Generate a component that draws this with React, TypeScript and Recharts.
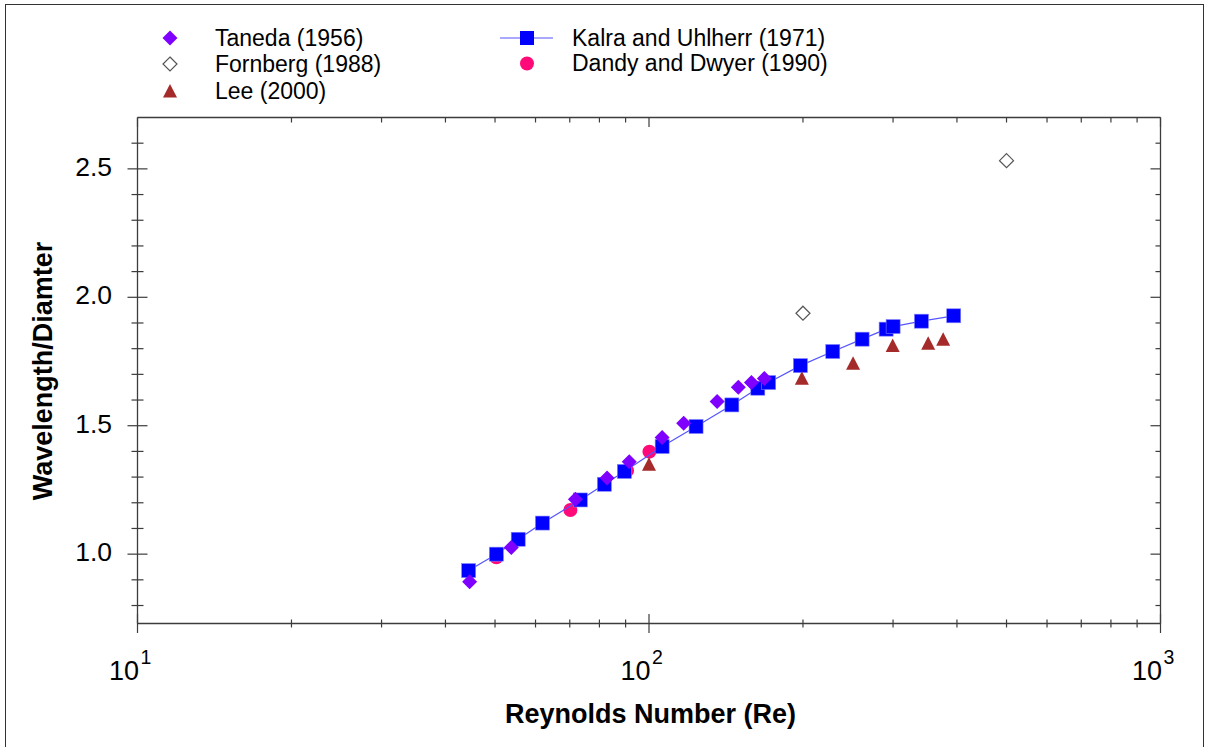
import React from 'react';
import { ScatterChart, Scatter, XAxis, YAxis, Legend } from 'recharts';

const FONT = '"Liberation Sans", Arial, Helvetica, sans-serif';
const AXIS_COLOR = '#3c3c3c';

// ---- data (Reynolds number, wavelength / diameter) ----
const tanedaRe = [44.6, 53.8, 71.8, 82.8, 91.5, 106.1, 116.9, 135.9, 149.5, 158.6, 168.1];
const tanedaRatio = [0.893, 1.026, 1.214, 1.296, 1.36, 1.454, 1.51, 1.594, 1.65, 1.668, 1.684];

const fornbergRe = [200, 500];
const fornbergRatio = [1.938, 2.532];

const leeRe = [100, 199, 250.6, 299.5, 351.4, 375.9];
const leeRatio = [1.35, 1.685, 1.743, 1.812, 1.821, 1.837];

const kalraRe = [44.4, 50.3, 55.5, 61.9, 73.4, 81.8, 89.5, 106.1, 123.6, 145.2, 163.2, 171.4, 197.7, 228.7, 261, 290.8, 300.1, 340.9, 394.2];
const kalraRatio = [0.936, 1.0, 1.058, 1.121, 1.211, 1.272, 1.322, 1.419, 1.497, 1.581, 1.646, 1.668, 1.734, 1.789, 1.837, 1.876, 1.886, 1.907, 1.928];

const dandyRe = [50.3, 70.2, 90.6, 100.2];
const dandyRatio = [0.988, 1.172, 1.325, 1.399];

// ---- axes ----
const xTicks = [10, 20, 30, 40, 50, 60, 70, 80, 90, 100, 200, 300, 400, 500, 600, 700, 800, 900, 1000];
const xLabelExponents = [1, 2, 3];
const yTicks = [0.8, 0.9, 1.0, 1.1, 1.2, 1.3, 1.4, 1.5, 1.6, 1.7, 1.8, 1.9, 2.0, 2.1, 2.2, 2.3, 2.4, 2.5, 2.6];
const yLabels = [1.0, 1.5, 2.0, 2.5];
const xDomain = [10, 1000];
const yDomain = [0.73, 2.7];

const seriesNames = ['Taneda (1956)', 'Fornberg (1988)', 'Lee (2000)', 'Kalra and Uhlherr (1971)', 'Dandy and Dwyer (1990)'];

const COLORS = {
  taneda: '#7f00ff',
  fornberg: '#555555',
  lee: '#a52a2a',
  kalra: '#0000ff',
  kalraLine: '#5555ff',
  dandy: '#ff0a78',
};

const pts = (xs: number[], ys: number[]) => xs.map((re, i) => ({ re, ratio: ys[i] }));

const isPow10 = (v: number) => Math.abs(Math.log10(v) - Math.round(Math.log10(v))) < 1e-9;
const isLabelY = (v: number) => yLabels.some((l) => Math.abs(l - v) < 1e-9);

// ---- marker shapes ----
const diamondPath = (cx: number, cy: number, r: number) =>
  `M${cx},${cy - r}L${cx + r},${cy}L${cx},${cy + r}L${cx - r},${cy}Z`;

const FilledDiamond = (p: any) => <path d={diamondPath(p.cx, p.cy, 7.5)} fill={COLORS.taneda} />;
const OpenDiamond = (p: any) => (
  <path d={diamondPath(p.cx, p.cy, 7)} fill="#fff" stroke={COLORS.fornberg} strokeWidth={1.2} />
);
const Triangle = (p: any) => (
  <path d={`M${p.cx},${p.cy - 7}L${p.cx + 7},${p.cy + 6.5}L${p.cx - 7},${p.cy + 6.5}Z`} fill={COLORS.lee} />
);
const Square = (p: any) => (
  <rect x={p.cx - 7} y={p.cy - 7} width={14} height={14} fill={COLORS.kalra} stroke="#8080ff" strokeWidth={0.6} />
);
const Circle = (p: any) => <circle cx={p.cx} cy={p.cy} r={7} fill={COLORS.dandy} />;

// ---- ticks ----
const BottomTick = (props: any) => {
  const { x, y, payload } = props;
  const v = payload.value;
  const major = isPow10(v);
  const len = major ? 9.5 : 4;
  const exp = Math.round(Math.log10(v));
  return (
    <g>
      <line x1={x} x2={x} y1={y - len} y2={y + len} stroke={AXIS_COLOR} strokeWidth={1.2} />
      {major && xLabelExponents.includes(exp) && (
        <g fontFamily={FONT} fill="#000">
          <text x={x + 1.5} y={y + 56} textAnchor="end" fontSize={27}>10</text>
          <text x={x + 3} y={y + 40} textAnchor="start" fontSize={19.5}>{exp}</text>
        </g>
      )}
    </g>
  );
};

const TopTick = (props: any) => {
  const { x, y, payload } = props;
  const len = isPow10(payload.value) ? 9.5 : 5;
  return <line x1={x} x2={x} y1={y} y2={y + len} stroke={AXIS_COLOR} strokeWidth={1.2} />;
};

const LeftTick = (props: any) => {
  const { x, y, payload } = props;
  const v = payload.value;
  const major = isLabelY(v);
  const len = major ? 10 : 6;
  return (
    <g>
      <line x1={x - len} x2={x + len} y1={y} y2={y} stroke={AXIS_COLOR} strokeWidth={1.2} />
      {major && (
        <text x={x - 25.5} y={y + 7} textAnchor="end" fontFamily={FONT} fontSize={26.5} fill="#000">
          {v.toFixed(1)}
        </text>
      )}
    </g>
  );
};

const RightTick = (props: any) => {
  const { x, y, payload } = props;
  const len = isLabelY(payload.value) ? 10 : 5;
  return <line x1={x - len} x2={x} y1={y} y2={y} stroke={AXIS_COLOR} strokeWidth={1.2} />;
};

// ---- legend ----
const LegendBox = () => {
  const textStyle = { fontFamily: FONT, fontSize: 23, fill: '#000' } as const;
  const c1 = 170;
  const t1 = 215;
  const c2 = 527;
  const t2 = 572;
  const rows = [38, 64, 91];
  return (
    <svg width={1205} height={110} style={{ display: 'block' }}>
      <path d={diamondPath(c1, rows[0], 7.5)} fill={COLORS.taneda} />
      <text x={t1} y={rows[0] + 8} {...textStyle}>{seriesNames[0]}</text>
      <path d={diamondPath(c1, rows[1], 7)} fill="#fff" stroke={COLORS.fornberg} strokeWidth={1.2} />
      <text x={t1} y={rows[1] + 8} {...textStyle}>{seriesNames[1]}</text>
      <path d={`M${c1},${rows[2] - 7}L${c1 + 7},${rows[2] + 6.5}L${c1 - 7},${rows[2] + 6.5}Z`} fill={COLORS.lee} />
      <text x={t1} y={rows[2] + 8} {...textStyle}>{seriesNames[2]}</text>
      <line x1={500} x2={553} y1={rows[0]} y2={rows[0]} stroke={COLORS.kalraLine} strokeWidth={1.2} />
      <rect x={c2 - 7} y={rows[0] - 7} width={14} height={14} fill={COLORS.kalra} />
      <text x={t2} y={rows[0] + 8} {...textStyle}>{seriesNames[3]}</text>
      <circle cx={c2} cy={rows[1] - 0.5} r={7} fill={COLORS.dandy} />
      <text x={t2} y={rows[1] + 7} {...textStyle}>{seriesNames[4]}</text>
    </svg>
  );
};

export default function App() {
  return (
    <div style={{ position: 'absolute', left: 0, top: 0, width: 1205, height: 747, overflow: 'hidden', background: '#fff' }}>
      <div
        style={{
          position: 'absolute',
          left: 5,
          top: 4,
          width: 1199,
          height: 800,
          border: '1.5px solid #333',
          boxSizing: 'border-box',
        }}
      />
      <div style={{ position: 'absolute', left: 0, top: 0 }}>
        <ScatterChart width={1205} height={747} margin={{ top: 116.5, right: 43.5, bottom: 122.5, left: 136.5 }}>
          <XAxis
            xAxisId="b"
            dataKey="re"
            type="number"
            scale="log"
            domain={xDomain}
            allowDataOverflow
            ticks={xTicks}
            interval={0}
            tick={(p: any) => <BottomTick {...p} />}
            tickLine={false}
            tickSize={0}
            tickMargin={0}
            height={1}
            axisLine={{ stroke: AXIS_COLOR, strokeWidth: 1.3 }}
          />
          <XAxis
            xAxisId="t"
            orientation="top"
            dataKey="re"
            type="number"
            scale="log"
            domain={xDomain}
            allowDataOverflow
            ticks={xTicks}
            interval={0}
            tick={(p: any) => <TopTick {...p} />}
            tickLine={false}
            tickSize={0}
            tickMargin={0}
            height={1}
            axisLine={{ stroke: AXIS_COLOR, strokeWidth: 1.3 }}
          />
          <YAxis
            yAxisId="l"
            dataKey="ratio"
            type="number"
            domain={yDomain}
            allowDataOverflow
            ticks={yTicks}
            interval={0}
            tick={(p: any) => <LeftTick {...p} />}
            tickLine={false}
            tickSize={0}
            tickMargin={0}
            width={1}
            axisLine={{ stroke: AXIS_COLOR, strokeWidth: 1.3 }}
          />
          <YAxis
            yAxisId="r"
            orientation="right"
            dataKey="ratio"
            type="number"
            domain={yDomain}
            allowDataOverflow
            ticks={yTicks}
            interval={0}
            tick={(p: any) => <RightTick {...p} />}
            tickLine={false}
            tickSize={0}
            tickMargin={0}
            width={1}
            axisLine={{ stroke: AXIS_COLOR, strokeWidth: 1.3 }}
          />
          <Legend
            layout="horizontal"
            verticalAlign="middle"
            align="center"
            wrapperStyle={{ top: 0, left: 0, width: 1205, height: 110 }}
            content={() => <LegendBox />}
          />
          <Scatter
            name={seriesNames[4]}
            data={pts(dandyRe, dandyRatio)}
            xAxisId="b"
            yAxisId="l"
            shape={Circle}
            isAnimationActive={false}
          />
          <Scatter
            name={seriesNames[3]}
            data={pts(kalraRe, kalraRatio)}
            xAxisId="b"
            yAxisId="l"
            shape={Square}
            line={{ stroke: COLORS.kalraLine, strokeWidth: 1.2 }}
            lineType="joint"
            isAnimationActive={false}
          />
          <Scatter
            name={seriesNames[2]}
            data={pts(leeRe, leeRatio)}
            xAxisId="b"
            yAxisId="l"
            shape={Triangle}
            isAnimationActive={false}
          />
          <Scatter
            name={seriesNames[1]}
            data={pts(fornbergRe, fornbergRatio)}
            xAxisId="b"
            yAxisId="l"
            shape={OpenDiamond}
            isAnimationActive={false}
          />
          <Scatter
            name={seriesNames[0]}
            data={pts(tanedaRe, tanedaRatio)}
            xAxisId="b"
            yAxisId="l"
            shape={FilledDiamond}
            isAnimationActive={false}
          />
        </ScatterChart>
      </div>
      <svg width={1205} height={747} style={{ position: 'absolute', left: 0, top: 0, pointerEvents: 'none' }}>
        <text
          x={650.5}
          y={723}
          textAnchor="middle"
          fontFamily={FONT}
          fontWeight="bold"
          fontSize={27}
          fill="#000"
        >
          Reynolds Number (Re)
        </text>
        <text
          x={51.5}
          y={371}
          transform="rotate(-90 51.5 371)"
          textAnchor="middle"
          fontFamily={FONT}
          fontWeight="bold"
          fontSize={27}
          fill="#000"
        >
          Wavelength/Diamter
        </text>
      </svg>
    </div>
  );
}
